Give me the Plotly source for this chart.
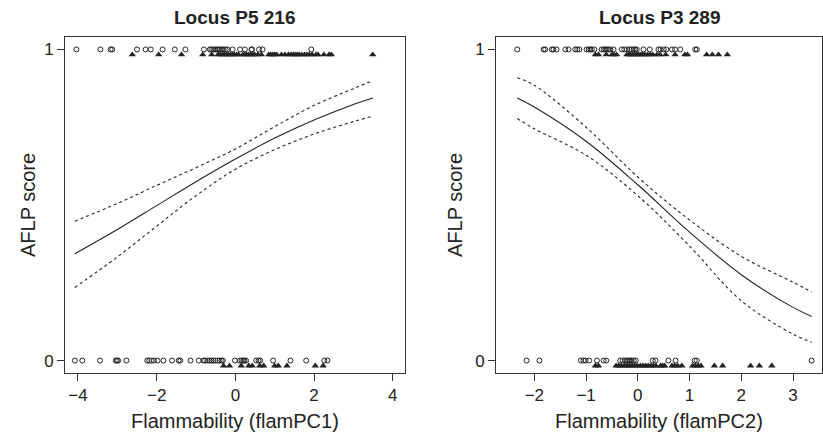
import plotly.graph_objects as go

# ---------------- Data ----------------
# Locus P5 216 (x = flamPC1)
p5_circ_top = [-4.04, -3.43, -3.17, -3.13, -2.50, -2.28, -2.15, -1.85, -1.54, -1.27, -0.80, -0.65,
               -0.61, -0.56, -0.51, -0.47, -0.43, -0.39, -0.34, -0.30, -0.25, -0.20, -0.07, 0.12,
               0.24, 0.41, 0.42, 0.60, 0.69, 1.93]
p5_tri_top = [-2.62, -1.95, -1.37, -0.83, -0.60, -0.44, -0.39, -0.33, -0.28, -0.23, -0.18, -0.13,
              -0.08, -0.03, 0.03, 0.08, 0.19, 0.23, 0.28, 0.33, 0.39, 0.44, 0.49, 0.57, 0.66,
              0.85, 0.90, 0.95, 1.00, 1.05, 1.17, 1.26, 1.35, 1.42, 1.47, 1.52, 1.57, 1.62,
              1.69, 1.76, 1.82, 1.88, 1.95, 2.05, 2.10, 2.25, 2.38, 2.44, 3.49]
p5_circ_bot = [-4.08, -3.89, -3.44, -3.04, -3.01, -2.98, -2.77, -2.24, -2.19, -2.13, -2.07, -1.98,
               -1.83, -1.61, -1.44, -1.40, -1.14, -0.93, -0.81, -0.77, -0.71, -0.66, -0.61, -0.56,
               -0.51, -0.45, -0.40, -0.35, -0.32, -0.01, 0.11, 0.16, 0.20, 0.23, 0.27, 0.53,
               0.59, 0.63, 0.96, 1.40, 1.80, 2.26, 2.34]
p5_tri_bot = [-0.30, -0.15, 0.15, 0.34, 0.43, 0.62, 0.72, 1.00, 1.09, 1.31, 2.03, 2.23]

p5_curve_x = [-4.08, -3.0, -2.0, -1.0, 0.0, 1.0, 2.0, 3.0, 3.5]
p5_fit = [0.343, 0.421, 0.498, 0.575, 0.648, 0.715, 0.773, 0.823, 0.844]
p5_upper = [0.448, 0.505, 0.563, 0.620, 0.680, 0.752, 0.820, 0.874, 0.900]
p5_lower = [0.235, 0.333, 0.432, 0.530, 0.615, 0.678, 0.728, 0.768, 0.786]

# Locus P3 289 (x = flamPC2)
p3_circ_top = [-2.33, -1.82, -1.79, -1.66, -1.63, -1.57, -1.40, -1.34, -1.21, -1.17, -1.13, -0.99,
               -0.95, -0.92, -0.89, -0.84, -0.70, -0.66, -0.63, -0.60, -0.57, -0.53, -0.47, -0.31,
               -0.26, -0.21, -0.16, -0.12, -0.08, -0.05, -0.02, 0.11, 0.23, 0.40, 0.44, 0.50,
               0.55, 0.66, 0.72, 0.82, 1.11, 1.14]
p3_tri_top = [-0.82, -0.76, -0.61, -0.50, -0.46, -0.41, -0.21, -0.17, -0.14, -0.10, -0.06, -0.02,
              0.02, 0.06, 0.10, 0.14, 0.19, 0.24, 0.29, 0.37, 0.43, 0.54, 0.72, 0.91, 0.96,
              1.33, 1.44, 1.56, 1.73]
p3_circ_bot = [-2.15, -1.90, -1.10, -1.05, -1.01, -0.94, -0.79, -0.66, -0.61, -0.34, -0.29, -0.24,
               -0.21, -0.18, -0.15, -0.12, -0.08, -0.04, 0.29, 0.34, 0.59, 0.73, 1.10, 1.14, 3.36]
p3_tri_bot = [-0.82, -0.76, -0.42, -0.37, -0.32, -0.26, -0.21, -0.16, -0.11, -0.06, -0.01, 0.05,
              0.10, 0.15, 0.20, 0.25, 0.30, 0.35, 0.44, 0.48, 0.52, 0.66, 0.71, 0.77, 0.85,
              1.06, 1.11, 1.17, 1.22, 1.48, 1.64, 2.18, 2.35, 2.59]

p3_curve_x = [-2.33, -2.0, -1.0, 0.0, 1.0, 2.0, 3.0, 3.36]
p3_fit = [0.844, 0.815, 0.705, 0.565, 0.413, 0.276, 0.171, 0.142]
p3_upper = [0.909, 0.885, 0.750, 0.590, 0.452, 0.335, 0.252, 0.220]
p3_lower = [0.778, 0.745, 0.660, 0.530, 0.368, 0.192, 0.085, 0.059]

titles = ["Locus P5 216", "Locus P3 289"]
xlabels = ["Flammability (flamPC1)", "Flammability (flamPC2)"]
ylabel = "AFLP score"
x1_ticks = [-4, -2, 0, 2, 4]
x2_ticks = [-2, -1, 0, 1, 2, 3]
y_ticks = [0, 1]

# ---------------- Figure ----------------
INK = "#222222"
FONT = "Liberation Sans, Arial, sans-serif"
TRI_OFF = 0.017

fig = go.Figure()


def add_panel(xa, ya, circ_top, tri_top, circ_bot, tri_bot, cx, fit, up, lo):
    circ_style = dict(symbol="circle-open", size=5, color=INK, line=dict(width=1, color=INK))
    tri_style = dict(symbol="triangle-up", size=6.5, color=INK, line=dict(width=0))
    fig.add_trace(go.Scatter(x=circ_top, y=[1] * len(circ_top), mode="markers",
                             marker=circ_style, xaxis=xa, yaxis=ya, showlegend=False))
    fig.add_trace(go.Scatter(x=circ_bot, y=[0] * len(circ_bot), mode="markers",
                             marker=circ_style, xaxis=xa, yaxis=ya, showlegend=False))
    fig.add_trace(go.Scatter(x=tri_top, y=[1 - TRI_OFF] * len(tri_top), mode="markers",
                             marker=tri_style, xaxis=xa, yaxis=ya, showlegend=False))
    fig.add_trace(go.Scatter(x=tri_bot, y=[0 - TRI_OFF] * len(tri_bot), mode="markers",
                             marker=tri_style, xaxis=xa, yaxis=ya, showlegend=False))
    for vals, dash in ((fit, "solid"), (up, "dot"), (lo, "dot")):
        fig.add_trace(go.Scatter(x=cx, y=vals, mode="lines",
                                 line=dict(color=INK, width=1.1, dash=dash, shape="spline", smoothing=1.0),
                                 xaxis=xa, yaxis=ya, showlegend=False))


add_panel("x", "y", p5_circ_top, p5_tri_top, p5_circ_bot, p5_tri_bot,
          p5_curve_x, p5_fit, p5_upper, p5_lower)
add_panel("x2", "y2", p3_circ_top, p3_tri_top, p3_circ_bot, p3_tri_bot,
          p3_curve_x, p3_fit, p3_upper, p3_lower)

axis_common = dict(showline=True, linecolor="#333333", linewidth=1, mirror=True,
                   ticks="outside", ticklen=7, tickwidth=1, tickcolor="#333333",
                   showgrid=False, zeroline=False,
                   tickfont=dict(family=FONT, size=17, color=INK))

fig.update_layout(
    width=823, height=436,
    margin=dict(l=65, r=1, t=37, b=63),
    paper_bgcolor="white", plot_bgcolor="white",
    font=dict(family=FONT, color=INK),
    xaxis=dict(domain=[0, 0.4491], range=[-4.33, 4.31], tickvals=x1_ticks, anchor="y", **axis_common),
    yaxis=dict(domain=[0, 1], range=[-0.04, 1.04], tickvals=y_ticks, anchor="x", **axis_common),
    xaxis2=dict(domain=[0.5694, 1], range=[-2.74, 3.56], tickvals=x2_ticks, anchor="y2", **axis_common),
    yaxis2=dict(domain=[0, 1], range=[-0.04, 1.04], tickvals=y_ticks, anchor="x2", **axis_common),
)

ann = []
# panel titles
for xc, t in ((0.2245, titles[0]), (0.7847, titles[1])):
    ann.append(dict(text="<b>" + t + "</b>", x=xc, y=1.0595, xref="paper", yref="paper",
                    xanchor="center", yanchor="middle", showarrow=False,
                    font=dict(family=FONT, size=19, color=INK)))
# x labels
for xc, t in ((0.2245, xlabels[0]), (0.7847, xlabels[1])):
    ann.append(dict(text=t, x=xc, y=-0.143, xref="paper", yref="paper",
                    xanchor="center", yanchor="middle", showarrow=False,
                    font=dict(family=FONT, size=20, color=INK)))
# y labels
for xc in (-0.0489, 0.5152):
    ann.append(dict(text=ylabel, x=xc, y=0.5, xref="paper", yref="paper",
                    xanchor="center", yanchor="middle", textangle=-90, showarrow=False,
                    font=dict(family=FONT, size=20, color=INK)))
fig.update_layout(annotations=ann)

fig.write_html("out.html",
               config={"displayModeBar": False},
               post_script="document.body.style.margin='0';document.body.style.overflow='hidden';")
